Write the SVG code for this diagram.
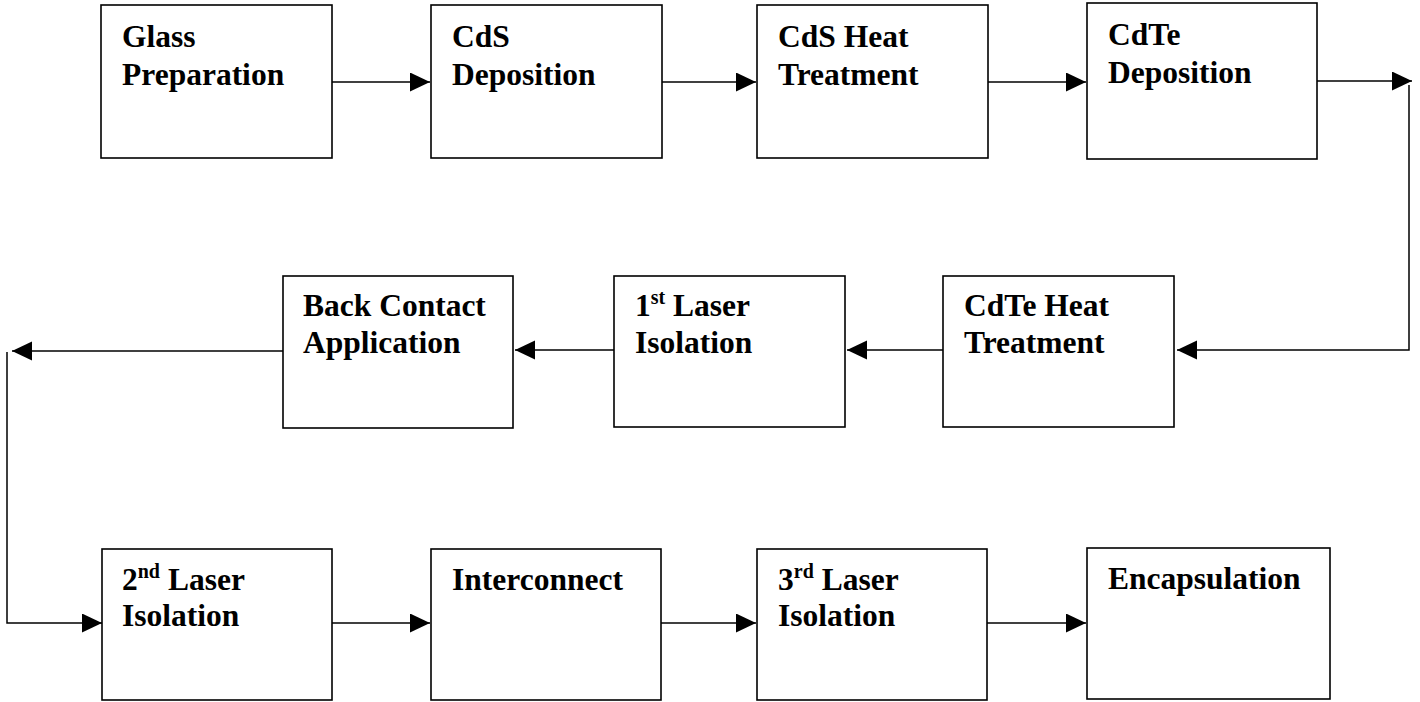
<svg xmlns="http://www.w3.org/2000/svg" width="1420" height="702" viewBox="0 0 1420 702">
  <style>
    .box { fill: #ffffff; stroke: #000000; stroke-width: 1.6; }
    .lbl { font-family: "Liberation Serif", "Times New Roman", serif; font-weight: bold; font-size: 31.5px; fill: #000000; }
    .sup { font-size: 20px; }
    .wire { fill: none; stroke: #000000; stroke-width: 1.5; }
  </style>
  <defs>
    <marker id="arrow" markerUnits="userSpaceOnUse" markerWidth="20" markerHeight="20" refX="20" refY="9.5" orient="auto">
      <path d="M0,0 L20,9.5 L0,19 Z" fill="#000000"/>
    </marker>
  </defs>
  <rect width="1420" height="702" fill="#ffffff"/>

  <!-- connectors -->
  <g id="connectors">
    <line class="wire" x1="332" y1="82" x2="430" y2="82" marker-end="url(#arrow)"/>
    <line class="wire" x1="662" y1="82" x2="756" y2="82" marker-end="url(#arrow)"/>
    <line class="wire" x1="988" y1="82" x2="1086" y2="82" marker-end="url(#arrow)"/>
    <line class="wire" x1="1317" y1="81" x2="1412" y2="81" marker-end="url(#arrow)"/>
    <polyline class="wire" points="1409,85 1409,350 1177,350" marker-end="url(#arrow)"/>
    <line class="wire" x1="943" y1="350" x2="847" y2="350" marker-end="url(#arrow)"/>
    <line class="wire" x1="614" y1="350" x2="515" y2="350" marker-end="url(#arrow)"/>
    <line class="wire" x1="283" y1="351" x2="12" y2="351" marker-end="url(#arrow)"/>
    <polyline class="wire" points="7,352 7,623 102,623" marker-end="url(#arrow)"/>
    <line class="wire" x1="332" y1="623" x2="430" y2="623" marker-end="url(#arrow)"/>
    <line class="wire" x1="661" y1="623" x2="756" y2="623" marker-end="url(#arrow)"/>
    <line class="wire" x1="987" y1="623" x2="1086" y2="623" marker-end="url(#arrow)"/>
  </g>

  <!-- row 1 -->
  <g id="glass-preparation">
    <rect class="box" x="101" y="5" width="231" height="153"/>
    <text class="lbl" x="122" y="47">Glass</text>
    <text class="lbl" x="122" y="85">Preparation</text>
  </g>
  <g id="cds-deposition">
    <rect class="box" x="431" y="5" width="231" height="153"/>
    <text class="lbl" x="452" y="47">CdS</text>
    <text class="lbl" x="452" y="85">Deposition</text>
  </g>
  <g id="cds-heat-treatment">
    <rect class="box" x="757" y="5" width="231" height="153"/>
    <text class="lbl" x="778" y="47">CdS Heat</text>
    <text class="lbl" x="778" y="85">Treatment</text>
  </g>
  <g id="cdte-deposition">
    <rect class="box" x="1087" y="3" width="230" height="156"/>
    <text class="lbl" x="1108" y="45">CdTe</text>
    <text class="lbl" x="1108" y="83">Deposition</text>
  </g>

  <!-- row 2 -->
  <g id="back-contact-application">
    <rect class="box" x="283" y="276" width="230" height="152"/>
    <text class="lbl" x="303" y="316">Back Contact</text>
    <text class="lbl" x="303" y="353">Application</text>
  </g>
  <g id="laser-isolation-1">
    <rect class="box" x="614" y="276" width="231" height="151"/>
    <text class="lbl" x="635" y="316">1<tspan class="sup" dy="-12">st</tspan><tspan dy="12"> Laser</tspan></text>
    <text class="lbl" x="635" y="353">Isolation</text>
  </g>
  <g id="cdte-heat-treatment">
    <rect class="box" x="943" y="276" width="231" height="151"/>
    <text class="lbl" x="964" y="316">CdTe Heat</text>
    <text class="lbl" x="964" y="353">Treatment</text>
  </g>

  <!-- row 3 -->
  <g id="laser-isolation-2">
    <rect class="box" x="102" y="549" width="230" height="151"/>
    <text class="lbl" x="122" y="590">2<tspan class="sup" dy="-12">nd</tspan><tspan dy="12"> Laser</tspan></text>
    <text class="lbl" x="122" y="626">Isolation</text>
  </g>
  <g id="interconnect">
    <rect class="box" x="431" y="549" width="230" height="151"/>
    <text class="lbl" x="452" y="590">Interconnect</text>
  </g>
  <g id="laser-isolation-3">
    <rect class="box" x="757" y="549" width="230" height="151"/>
    <text class="lbl" x="778" y="590">3<tspan class="sup" dy="-12">rd</tspan><tspan dy="12"> Laser</tspan></text>
    <text class="lbl" x="778" y="626">Isolation</text>
  </g>
  <g id="encapsulation">
    <rect class="box" x="1087" y="548" width="243" height="151"/>
    <text class="lbl" x="1108" y="589">Encapsulation</text>
  </g>
</svg>
